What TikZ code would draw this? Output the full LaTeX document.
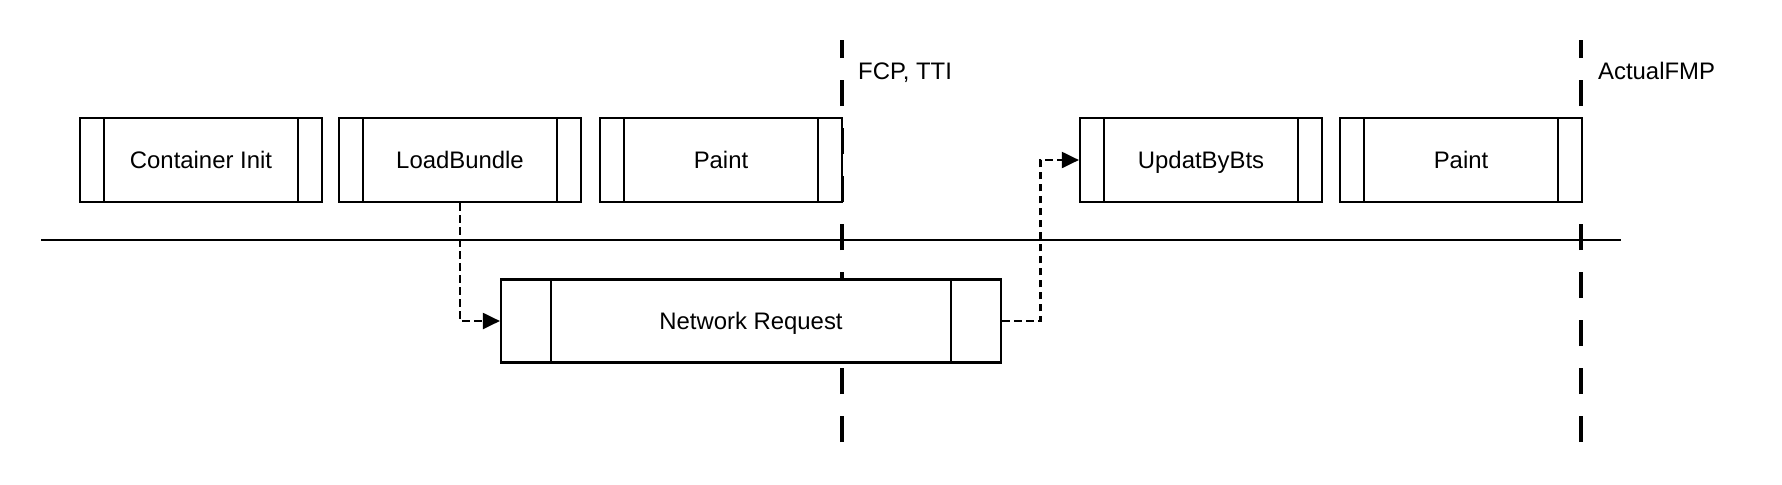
\documentclass[tikz,border=0pt]{standalone}
\usepackage{fontspec}
\setmainfont{Liberation Sans}
\usetikzlibrary{arrows.meta}
\usetikzlibrary{calc}

\begin{document}
\begin{tikzpicture}[x=0.02cm, y=-0.02cm, line width=1.3pt,
  proc/.style={draw, fill=white, minimum width=4.84cm, minimum height=1.68cm, inner sep=0pt,
    text height=11pt, text depth=1pt, font=\fontsize{13.6}{16}\selectfont,
    path picture={\foreach \p in {0.1,0.9}
      \draw ($(path picture bounding box.north west)!\p!(path picture bounding box.north east)$) --
            ($(path picture bounding box.south west)!\p!(path picture bounding box.south east)$);}},
  flow/.style={line width=1.2pt, dash pattern=on 0.15cm off 0.09cm,
    -{Triangle[length=0.34cm,width=0.32cm]}},
  milestone/.style={line width=1.8pt, dash pattern=on 0.52cm off 0.44cm},
  tag/.style={anchor=west, inner sep=0pt, font=\fontsize{13.6}{16}\selectfont}]
  \useasboundingbox (0,0) rectangle (1782,484);
  % time axis and milestones
  \draw (41,240) -- (1621,240);
  \draw[milestone] (842,442) -- (842,40);
  \draw[milestone] (1581,442) -- (1581,40);
  \node[tag] (t1) at (857,73) {FCP, TTI};
  \node[tag] (t2) at (1597,71) {ActualFMP};
  % stages
  \foreach \n/\x/\t in {n1/201/Container Init, n2/460/LoadBundle, n3/721/Paint,
                        n5/1201/UpdatByBts, n6/1461/Paint}
    \node[proc] (\n) at (\x,160) {\t};
  \node[proc, minimum width=10cm, minimum height=1.66cm] (n4) at (751,321) {Network Request};
  \coordinate (bend) at ($(n4.east)!0.5!(n5.west)$);
  \draw[flow] (n2.south) |- (n4.west);
  \draw[flow] (n4.east) -| (bend) |- (n5.west);
\end{tikzpicture}
\end{document}
